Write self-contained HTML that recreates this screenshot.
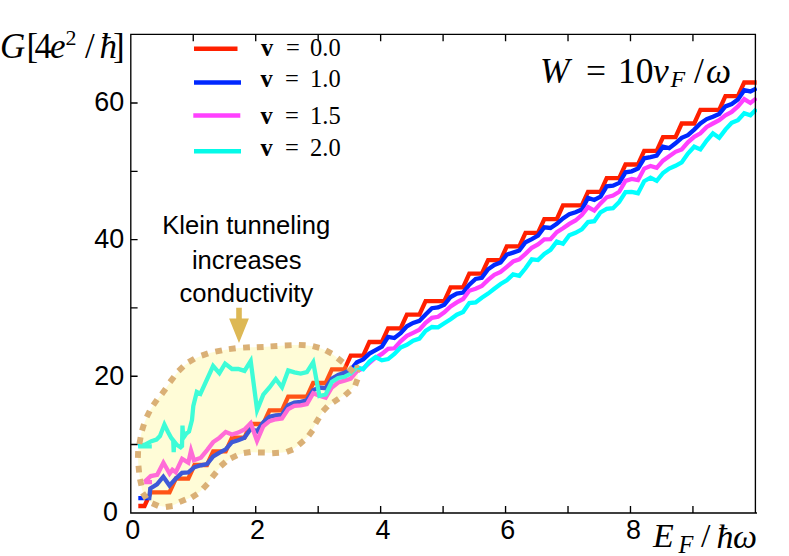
<!DOCTYPE html>
<html><head><meta charset="utf-8"><title>chart</title>
<style>html,body{margin:0;padding:0;background:#fff}svg{display:block}</style></head>
<body>
<svg width="789" height="556" viewBox="0 0 789 556">
<rect width="789" height="556" fill="#fff"/>
<defs><clipPath id="cp"><rect x="130.80" y="34.40" width="626.20" height="478.40"/></clipPath></defs>
<g clip-path="url(#cp)" fill="none" stroke-width="4.3" stroke-linejoin="miter" stroke-miterlimit="5" stroke-linecap="butt">
<path d="M138.3,506.0 L144.5,506.0 L150.8,492.3 L157.0,492.3 L163.3,492.3 L169.5,492.3 L175.8,478.6 L182.0,478.6 L188.3,478.6 L194.5,465.0 L200.8,465.0 L207.0,465.0 L213.2,451.3 L219.5,451.3 L225.7,451.3 L232.0,437.7 L238.2,437.7 L244.5,437.7 L250.7,424.0 L257.0,424.0 L263.2,424.0 L269.5,410.3 L275.7,410.3 L282.0,410.3 L288.2,396.7 L294.4,396.7 L300.7,396.7 L306.9,396.7 L313.2,383.0 L319.4,383.0 L325.7,383.0 L331.9,369.4 L338.2,369.4 L344.4,369.4 L350.7,355.7 L356.9,355.7 L363.2,355.7 L369.4,342.0 L375.6,342.0 L381.9,342.0 L388.1,328.4 L394.4,328.4 L400.6,328.4 L406.9,314.7 L413.1,314.7 L419.4,314.7 L425.6,301.1 L431.9,301.1 L438.1,301.1 L444.3,301.1 L450.6,287.4 L456.8,287.4 L463.1,287.4 L469.3,273.7 L475.6,273.7 L481.8,273.7 L488.1,260.1 L494.3,260.1 L500.6,260.1 L506.8,246.4 L513.1,246.4 L519.3,246.4 L525.5,232.8 L531.8,232.8 L538.0,232.8 L544.3,219.1 L550.5,219.1 L556.8,219.1 L563.0,205.4 L569.3,205.4 L575.5,205.4 L581.8,205.4 L588.0,191.8 L594.3,191.8 L600.5,191.8 L606.7,178.1 L613.0,178.1 L619.2,178.1 L625.5,164.5 L631.7,164.5 L638.0,164.5 L644.2,150.8 L650.5,150.8 L656.7,150.8 L663.0,137.1 L669.2,137.1 L675.5,137.1 L681.7,123.5 L687.9,123.5 L694.2,123.5 L700.4,109.8 L706.7,109.8 L712.9,109.8 L719.2,109.8 L725.4,96.2 L731.7,96.2 L737.9,96.2 L744.2,82.5 L750.4,82.5 L756.6,82.5" stroke="#ff2000"/>
<path d="M138.3,498.2 L149.3,498.2 L150.3,488.5 L157.0,484.3 L163.3,476.7 L169.5,485.6 L175.8,478.6 L182.0,472.9 L188.3,472.3 L194.5,467.2 L200.8,465.3 L207.0,464.0 L213.2,456.4 L219.5,452.6 L225.7,449.4 L232.0,442.1 L238.2,440.2 L244.5,437.7 L250.7,428.8 L257.0,431.3 L263.2,422.5 L269.5,416.8 L275.7,415.5 L282.0,414.8 L288.2,405.3 L294.4,402.7 L300.7,401.9 L306.9,400.2 L313.2,390.1 L319.4,387.5 L325.7,388.2 L331.9,378.7 L338.2,374.9 L344.4,372.7 L350.7,369.8 L356.9,362.2 L363.2,359.4 L369.4,353.6 L375.6,350.1 L381.9,346.6 L388.1,336.9 L394.4,338.0 L400.6,333.2 L406.9,326.3 L413.1,322.9 L419.4,320.9 L425.6,314.4 L431.9,308.2 L438.1,307.4 L444.3,304.8 L450.6,297.0 L456.8,293.6 L463.1,292.5 L469.3,284.7 L475.6,278.9 L481.8,277.8 L488.1,269.3 L494.3,265.0 L500.6,262.5 L506.8,254.6 L513.1,252.6 L519.3,250.5 L525.5,242.3 L531.8,239.1 L538.0,235.5 L544.3,227.3 L550.5,228.0 L556.8,223.9 L563.0,218.4 L569.3,214.3 L575.5,212.3 L581.8,209.5 L588.0,197.9 L594.3,200.0 L600.5,196.6 L606.7,186.3 L613.0,185.6 L619.2,182.9 L625.5,172.3 L631.7,171.3 L638.0,168.6 L644.2,158.3 L650.5,157.2 L656.7,155.6 L663.0,146.7 L669.2,148.1 L675.5,143.3 L681.7,137.8 L687.9,135.1 L694.2,129.6 L700.4,123.5 L706.7,119.1 L712.9,116.7 L719.2,113.9 L725.4,106.4 L731.7,104.0 L737.9,99.6 L744.2,90.2 L750.4,91.4 L756.6,88.3" stroke="#0028ff"/>
<path d="M144.5,481.8 L150.8,476.1 L157.2,474.8 L163.4,462.7 L169.6,473.5 L172.4,469.7 L175.8,472.2 L182.1,458.9 L188.3,462.7 L191.0,450.7 L193.9,460.2 L200.9,457.7 L207.1,450.1 L213.2,442.1 L219.5,437.7 L225.7,432.0 L232.0,434.5 L238.2,432.6 L244.5,429.4 L250.7,423.1 L257.0,440.8 L263.2,426.3 L269.5,421.1 L275.7,419.3 L282.0,418.5 L288.2,409.1 L294.4,405.9 L300.7,405.3 L306.9,404.0 L313.2,393.2 L319.4,395.8 L325.7,397.7 L331.9,387.5 L338.2,382.5 L344.4,380.6 L350.7,378.7 L356.9,371.1 L363.2,368.5 L369.4,362.8 L375.6,357.7 L381.9,353.9 L388.1,348.9 L394.4,348.3 L400.6,341.4 L406.9,335.9 L413.1,332.8 L419.4,329.8 L425.6,322.9 L431.9,317.8 L438.1,316.8 L444.3,312.3 L450.6,306.5 L456.8,302.4 L463.1,299.0 L469.3,290.8 L475.6,288.8 L481.8,286.0 L488.1,279.9 L494.3,274.8 L500.6,272.0 L506.8,266.9 L513.1,261.5 L519.3,259.4 L525.5,253.9 L531.8,247.8 L538.0,244.4 L544.3,239.4 L550.5,239.1 L556.8,232.1 L563.0,228.3 L569.3,223.9 L575.5,220.5 L581.8,215.0 L588.0,207.1 L594.3,210.6 L600.5,203.4 L606.7,197.3 L613.0,195.5 L619.2,191.8 L625.5,180.9 L631.7,179.0 L638.0,180.2 L644.2,168.6 L650.5,166.0 L656.7,167.9 L663.0,160.7 L669.2,156.3 L675.5,151.8 L681.7,149.4 L687.9,142.3 L694.2,136.8 L700.4,133.3 L706.7,126.9 L712.9,123.5 L719.2,120.1 L725.4,115.3 L731.7,111.9 L737.9,106.4 L744.2,99.1 L750.4,103.0 L756.6,98.2" stroke="#ff40ff"/>
<path d="M144.2,482.2 H152" stroke="#ff40ff"/>
<path d="M138.3,446.2 L145.0,444.6 L151.4,441.2 L156.5,439.5 L160.0,436.0 L164.4,424.6 L168.0,432.0 L171.0,437.5 L173.2,440.5 L173.7,452.2 L174.2,441.5 L177.0,445.0 L180.6,447.3 L182.0,446.0 L182.5,425.6 L183.2,438.0 L186.3,433.5 L189.0,431.5 L192.0,420.0 L193.3,406.0 L196.8,392.0 L200.4,393.9 L213.1,366.0 L219.4,373.2 L225.1,363.6 L232.0,369.0 L238.3,369.0 L244.5,370.9 L250.7,361.0 L257.1,410.0 L263.3,394.6 L269.5,387.5 L275.8,379.0 L282.0,387.2 L288.2,370.5 L294.4,372.4 L300.7,373.5 L306.9,372.1 L313.2,362.2 L319.4,396.0 L325.7,394.5 L331.9,381.8 L338.2,378.0 L344.4,376.8 L350.7,373.6 L356.9,367.2 L363.2,369.2 L369.4,361.5 L375.6,357.1 L381.9,360.3 L388.1,359.1 L394.4,354.0 L400.6,347.5 L406.9,344.8 L413.1,340.7 L419.4,338.6 L425.6,330.8 L431.9,327.0 L438.1,327.4 L444.3,323.3 L450.6,319.2 L456.8,314.7 L463.1,312.0 L469.3,303.1 L475.6,302.4 L481.8,297.7 L488.1,293.6 L494.3,288.8 L500.6,284.0 L506.8,280.3 L513.1,274.4 L519.3,275.8 L525.5,268.3 L531.8,259.4 L538.0,260.1 L544.3,253.9 L550.5,249.8 L556.8,241.6 L563.0,243.7 L569.3,235.2 L575.5,232.8 L581.8,229.4 L588.0,222.1 L594.3,221.2 L600.5,212.3 L606.7,208.9 L613.0,208.2 L619.2,202.0 L625.5,192.1 L631.7,191.8 L638.0,193.2 L644.2,181.2 L650.5,177.7 L656.7,180.9 L663.0,173.0 L669.2,168.6 L675.5,165.8 L681.7,162.4 L687.9,153.5 L694.2,146.7 L700.4,149.4 L706.7,140.6 L712.9,133.3 L719.2,137.8 L725.4,129.6 L731.7,122.8 L737.9,120.1 L744.2,113.2 L750.4,115.3 L756.6,109.1" stroke="#00ffff"/>
<path d="M138.3,446.3 H151.8" stroke="#00ffff"/>
</g>
<path d="M356.7,367.2 C357.8,368.0 357.9,372.0 357.8,374.5 C357.7,377.0 358.0,379.3 356.3,382.4 C354.6,385.5 350.8,390.1 347.4,393.1 C344.0,396.1 339.6,397.9 335.9,400.5 C332.2,403.1 328.3,405.3 325.2,408.7 C322.1,412.1 319.7,416.6 317.3,420.6 C314.9,424.7 313.4,429.3 310.7,433.0 C308.0,436.7 304.8,439.8 301.3,442.7 C297.8,445.6 294.1,449.0 289.8,450.7 C285.5,452.4 280.3,452.7 275.6,453.0 C270.9,453.3 266.1,452.6 261.4,452.5 C256.7,452.4 251.8,451.8 247.2,452.5 C242.6,453.2 237.9,455.0 233.9,456.9 C229.9,458.8 226.4,461.0 223.1,464.0 C219.8,467.0 217.2,471.1 214.2,474.8 C211.2,478.5 208.6,482.7 205.3,486.2 C202.0,489.7 198.3,493.3 194.5,495.7 C190.7,498.1 186.7,499.0 182.5,500.8 C178.3,502.6 173.8,505.9 169.2,506.5 C164.6,507.1 159.3,506.4 155.2,504.6 C151.1,502.8 146.9,499.4 144.5,495.7 C142.1,492.0 141.6,486.8 140.7,482.4 C139.8,478.0 139.2,473.8 138.8,469.1 C138.4,464.5 137.8,459.2 138.0,454.5 C138.2,449.8 139.2,445.1 140.0,440.6 C140.8,436.1 141.6,431.7 143.0,427.3 C144.4,422.9 146.2,418.1 148.2,414.0 C150.2,409.9 152.6,406.2 155.2,402.4 C157.8,398.6 160.9,395.2 163.7,391.4 C166.5,387.6 169.1,383.2 172.0,379.4 C174.9,375.6 177.7,371.9 180.9,368.7 C184.2,365.5 187.5,362.8 191.5,360.4 C195.5,358.0 200.3,356.1 204.8,354.5 C209.3,352.9 214.1,352.0 218.7,351.0 C223.3,350.0 227.7,349.3 232.3,348.7 C236.9,348.1 241.8,347.7 246.5,347.4 C251.2,347.1 255.6,347.3 260.2,347.1 C264.8,346.9 269.3,346.5 274.0,346.2 C278.7,345.9 283.5,345.5 288.2,345.3 C292.9,345.1 297.5,344.8 302.2,345.1 C306.9,345.4 311.7,345.9 316.1,347.0 C320.5,348.1 324.8,349.8 328.8,352.0 C332.8,354.2 336.5,357.3 340.2,360.3 C343.9,363.3 348.2,368.7 351.0,369.8 C353.8,370.9 355.6,366.4 356.7,367.2Z" fill="#fff35b" fill-opacity="0.245"/>
<g fill="#dab076">
<rect x="-2.2" y="-1.6" width="4.4" height="3.2" transform="translate(356.9,366.5) rotate(-15)"/>
<rect x="-1.6" y="-1.3" width="3.2" height="2.6" transform="translate(358.6,371.0) rotate(20)"/>
<rect x="-3.4" y="-2.95" width="6.8" height="5.9" transform="translate(356.3,382.4) rotate(109.8)"/>
<rect x="-3.4" y="-2.95" width="6.8" height="5.9" transform="translate(347.4,393.1) rotate(138.4)"/>
<rect x="-3.4" y="-2.95" width="6.8" height="5.9" transform="translate(335.9,400.5) rotate(144.9)"/>
<rect x="-3.4" y="-2.95" width="6.8" height="5.9" transform="translate(325.2,408.7) rotate(132.8)"/>
<rect x="-3.4" y="-2.95" width="6.8" height="5.9" transform="translate(317.3,420.6) rotate(120.8)"/>
<rect x="-3.4" y="-2.95" width="6.8" height="5.9" transform="translate(310.7,433.0) rotate(125.9)"/>
<rect x="-3.4" y="-2.95" width="6.8" height="5.9" transform="translate(301.3,442.7) rotate(139.7)"/>
<rect x="-3.4" y="-2.95" width="6.8" height="5.9" transform="translate(289.8,450.7) rotate(158.2)"/>
<rect x="-3.4" y="-2.95" width="6.8" height="5.9" transform="translate(275.6,453.0) rotate(176.4)"/>
<rect x="-3.4" y="-2.95" width="6.8" height="5.9" transform="translate(261.4,452.5) rotate(-179.0)"/>
<rect x="-3.4" y="-2.95" width="6.8" height="5.9" transform="translate(247.2,452.5) rotate(170.9)"/>
<rect x="-3.4" y="-2.95" width="6.8" height="5.9" transform="translate(233.9,456.9) rotate(154.5)"/>
<rect x="-3.4" y="-2.95" width="6.8" height="5.9" transform="translate(223.1,464.0) rotate(137.7)"/>
<rect x="-3.4" y="-2.95" width="6.8" height="5.9" transform="translate(214.2,474.8) rotate(128.7)"/>
<rect x="-3.4" y="-2.95" width="6.8" height="5.9" transform="translate(205.3,486.2) rotate(133.3)"/>
<rect x="-3.4" y="-2.95" width="6.8" height="5.9" transform="translate(194.5,495.7) rotate(147.4)"/>
<rect x="-3.4" y="-2.95" width="6.8" height="5.9" transform="translate(182.5,500.8) rotate(156.9)"/>
<rect x="-3.4" y="-2.95" width="6.8" height="5.9" transform="translate(169.2,506.5) rotate(172.1)"/>
<rect x="-3.4" y="-2.95" width="6.8" height="5.9" transform="translate(155.2,504.6) rotate(-156.4)"/>
<rect x="-3.4" y="-2.95" width="6.8" height="5.9" transform="translate(144.5,495.7) rotate(-123.2)"/>
<rect x="-3.4" y="-2.95" width="6.8" height="5.9" transform="translate(140.7,482.4) rotate(-102.1)"/>
<rect x="-3.4" y="-2.95" width="6.8" height="5.9" transform="translate(138.8,469.1) rotate(-95.5)"/>
<rect x="-3.4" y="-2.95" width="6.8" height="5.9" transform="translate(138.0,454.5) rotate(-87.6)"/>
<rect x="-3.4" y="-2.95" width="6.8" height="5.9" transform="translate(140.0,440.6) rotate(-79.6)"/>
<rect x="-3.4" y="-2.95" width="6.8" height="5.9" transform="translate(143.0,427.3) rotate(-72.9)"/>
<rect x="-3.4" y="-2.95" width="6.8" height="5.9" transform="translate(148.2,414.0) rotate(-63.9)"/>
<rect x="-3.4" y="-2.95" width="6.8" height="5.9" transform="translate(155.2,402.4) rotate(-55.6)"/>
<rect x="-3.4" y="-2.95" width="6.8" height="5.9" transform="translate(163.7,391.4) rotate(-53.9)"/>
<rect x="-3.4" y="-2.95" width="6.8" height="5.9" transform="translate(172.0,379.4) rotate(-52.8)"/>
<rect x="-3.4" y="-2.95" width="6.8" height="5.9" transform="translate(180.9,368.7) rotate(-44.3)"/>
<rect x="-3.4" y="-2.95" width="6.8" height="5.9" transform="translate(191.5,360.4) rotate(-30.7)"/>
<rect x="-3.4" y="-2.95" width="6.8" height="5.9" transform="translate(204.8,354.5) rotate(-19.1)"/>
<rect x="-3.4" y="-2.95" width="6.8" height="5.9" transform="translate(218.7,351.0) rotate(-11.9)"/>
<rect x="-3.4" y="-2.95" width="6.8" height="5.9" transform="translate(232.3,348.7) rotate(-7.4)"/>
<rect x="-3.4" y="-2.95" width="6.8" height="5.9" transform="translate(246.5,347.4) rotate(-3.3)"/>
<rect x="-3.4" y="-2.95" width="6.8" height="5.9" transform="translate(260.2,347.1) rotate(-2.5)"/>
<rect x="-3.4" y="-2.95" width="6.8" height="5.9" transform="translate(274.0,346.2) rotate(-3.7)"/>
<rect x="-3.4" y="-2.95" width="6.8" height="5.9" transform="translate(288.2,345.3) rotate(-2.2)"/>
<rect x="-3.4" y="-2.95" width="6.8" height="5.9" transform="translate(302.2,345.1) rotate(3.5)"/>
<rect x="-3.4" y="-2.95" width="6.8" height="5.9" transform="translate(316.1,347.0) rotate(14.5)"/>
<rect x="-3.4" y="-2.95" width="6.8" height="5.9" transform="translate(328.8,352.0) rotate(28.9)"/>
<rect x="-3.4" y="-2.95" width="6.8" height="5.9" transform="translate(340.2,360.3) rotate(38.7)"/>
<rect x="-3.4" y="-2.95" width="6.8" height="5.9" transform="translate(351.0,369.8) rotate(42.4)"/>
</g>
<path d="M236.2,307.7 H241.8 V318.6 H248.9 L239,343.1 L229.1,318.6 H236.2 Z" fill="#ddb855"/>
<g stroke="#000" stroke-width="1.35" fill="none">
<path d="M130.80,34.40 H755.40 V513.00 H130.80 Z M755.40,513.00 h1.6"/>
<path d="M193.26,513.00 v-6.9 M193.26,34.40 v6.8 M255.72,513.00 v-6.9 M255.72,34.40 v6.8 M318.18,513.00 v-6.9 M318.18,34.40 v6.8 M380.64,513.00 v-6.9 M380.64,34.40 v6.8 M443.10,513.00 v-6.9 M443.10,34.40 v6.8 M505.56,513.00 v-6.9 M505.56,34.40 v6.8 M568.02,513.00 v-6.9 M568.02,34.40 v6.8 M630.48,513.00 v-6.9 M630.48,34.40 v6.8 M692.94,513.00 v-6.9 M692.94,34.40 v6.8 M130.80,444.50 h6.8 M130.80,376.20 h6.8 M130.80,307.90 h6.8 M130.80,239.60 h6.8 M130.80,171.30 h6.8 M130.80,103.00 h6.8"/>
</g>
<g stroke-width="4.5">
<path d="M194,48.7 H237.5" stroke="#ff2000"/>
<path d="M194,82.4 H241" stroke="#0028ff"/>
<path d="M193.3,115.5 H240.3" stroke="#ff40ff"/>
<path d="M194,151.2 H241" stroke="#05fae8"/>
</g>
<g fill="#000" stroke="none">
<g font-family="'Liberation Sans', sans-serif" font-size="26.9">
<text x="94.3" y="110.8">60</text>
<text x="94.3" y="247.6">40</text>
<text x="94.3" y="384.6">20</text>
<text x="103.0" y="521.4">0</text>
<text x="125.3" y="539.1">0</text>
<text x="250.0" y="539.1">2</text>
<text x="375.5" y="539.1">4</text>
<text x="500.3" y="539.1">6</text>
<text x="626.0" y="539.1">8</text>
</g>
<g font-family="'Liberation Sans', sans-serif" font-size="25.6" text-anchor="middle">
<text x="246.2" y="233.8">Klein tunneling</text>
<text x="246.7" y="268.6">increases</text>
<text x="246.4" y="302.1">conductivity</text>
</g>
<g font-family="'Liberation Serif', serif">
<text font-size="35"><tspan x="0" y="57.8" font-style="italic">G</tspan><tspan x="26.5" y="57.8">[</tspan><tspan x="34.5" y="57.8">4</tspan><tspan x="50" y="57.8" font-style="italic">e</tspan><tspan x="65.5" y="45.4" font-size="22">2</tspan><tspan x="85" y="57.8">/</tspan><tspan x="99.5" y="57.8" font-style="italic">ħ</tspan><tspan x="113" y="57.8">]</tspan></text>
<text font-size="24.5"><tspan x="261" y="56" font-weight="bold">v</tspan><tspan x="286" y="56">=</tspan><tspan x="310" y="56">0.0</tspan></text>
<text font-size="24.5"><tspan x="260.5" y="87.2" font-weight="bold">v</tspan><tspan x="285" y="87.2">=</tspan><tspan x="310" y="87.2">1.0</tspan></text>
<text font-size="24.5"><tspan x="260.5" y="123.7" font-weight="bold">v</tspan><tspan x="285" y="123.7">=</tspan><tspan x="310" y="123.7">1.5</tspan></text>
<text font-size="24.5"><tspan x="260.5" y="156" font-weight="bold">v</tspan><tspan x="285" y="156">=</tspan><tspan x="310" y="156">2.0</tspan></text>
<text font-size="35.5"><tspan x="540" y="82.5" font-style="italic">W</tspan><tspan x="586" y="82.5">=</tspan><tspan x="618" y="82.5">10</tspan><tspan x="653" y="82.5" font-style="italic">v</tspan><tspan x="670.5" y="87" font-style="italic" font-size="24">F</tspan><tspan x="694" y="82.5">/</tspan><tspan x="706" y="82.5" font-style="italic">ω</tspan></text>
<text font-size="34"><tspan x="653" y="547.3" font-style="italic">E</tspan><tspan x="678.5" y="552.6" font-style="italic" font-size="24.4">F</tspan><tspan x="701" y="547.3">/</tspan><tspan x="716.5" y="547.9" font-style="italic">ħ</tspan><tspan x="733" y="547.9" font-style="italic">ω</tspan></text>
</g>
</g>
</svg>
</body></html>
